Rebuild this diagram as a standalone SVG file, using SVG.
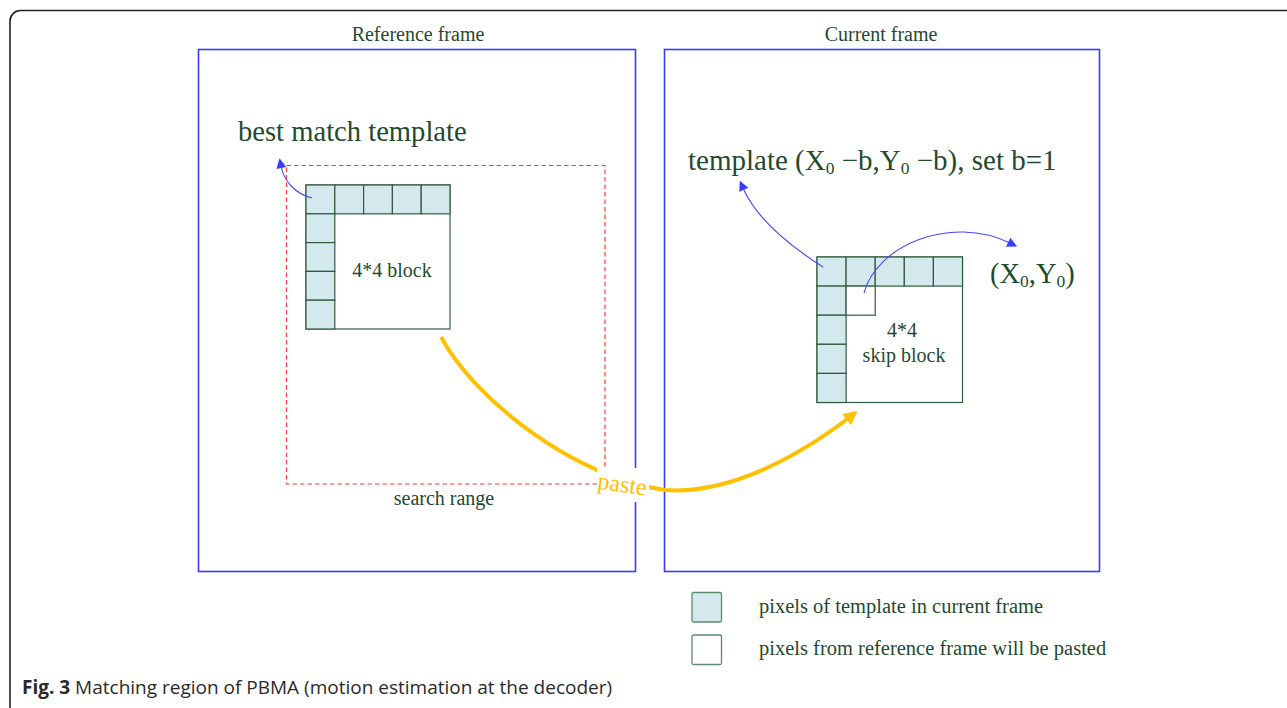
<svg xmlns="http://www.w3.org/2000/svg" width="1287" height="708" viewBox="0 0 1287 708">
  <style>
    .lbl { font-family: "Liberation Serif", "Times New Roman", serif; fill: #1f4a30; }
    .frame { fill: none; stroke: #3a3aff; stroke-width: 1.6; }
    .tpl { fill: #d3e9ee; stroke: #2f5a3e; stroke-width: 1.2; }
    .px { fill: #ffffff; stroke: #2f5a3e; stroke-width: 1.2; }
    .ptr { fill: none; stroke: #4646ff; stroke-width: 1.1; }
    .paste { fill: none; stroke: #ffc000; stroke-width: 4; }
    .cap { font-family: "Open Sans", "Liberation Sans", sans-serif; fill: #2a2a2a; }
  </style>
  <defs>
    <marker id="blueHead" viewBox="0 0 10 10" refX="2" refY="5" markerWidth="12" markerHeight="10" markerUnits="userSpaceOnUse" orient="auto">
      <path d="M0,0 L10,5 L0,10 Z" fill="#3b3bff"/>
    </marker>
    <marker id="yellowHead" viewBox="0 0 10 10" refX="3" refY="5" markerWidth="16" markerHeight="14" markerUnits="userSpaceOnUse" orient="auto">
      <path d="M0,0 L10,5 L0,10 Z" fill="#ffc000"/>
    </marker>
  </defs>

  <rect width="1287" height="708" fill="#ffffff"/>

  <!-- outer figure border, open on the right and bottom -->
  <path d="M10,712 V21 A10.5,10.5 0 0 1 20.5,10.5 H1292" fill="none" stroke="#222" stroke-width="1.6"/>

  <!-- reference frame -->
  <g id="reference-frame">
    <rect class="frame" x="198.5" y="49.5" width="437" height="522"/>
    <text class="lbl" x="418" y="41" font-size="20" text-anchor="middle">Reference frame</text>
  </g>

  <!-- current frame -->
  <g id="current-frame">
    <rect class="frame" x="664.5" y="49.5" width="435" height="522"/>
    <text class="lbl" x="881" y="41" font-size="20" text-anchor="middle">Current frame</text>
  </g>

  <!-- search range in the reference frame -->
  <g id="search-range">
    <rect x="286.5" y="165.5" width="318.5" height="318.5" fill="none" stroke="#ff3b3b" stroke-width="1.2" stroke-dasharray="4.5,3"/>
    <text class="lbl" x="444" y="505" font-size="20" text-anchor="middle">search range</text>
  </g>

  <!-- best match block with its template -->
  <g id="best-match-block">
    <rect class="px" x="306" y="185" width="144" height="144"/>
    <rect class="tpl" x="306" y="185" width="28.8" height="28.8"/>
    <rect class="tpl" x="334.8" y="185" width="28.8" height="28.8"/>
    <rect class="tpl" x="363.6" y="185" width="28.8" height="28.8"/>
    <rect class="tpl" x="392.4" y="185" width="28.8" height="28.8"/>
    <rect class="tpl" x="421.2" y="185" width="28.8" height="28.8"/>
    <rect class="tpl" x="306" y="213.8" width="28.8" height="28.8"/>
    <rect class="tpl" x="306" y="242.6" width="28.8" height="28.8"/>
    <rect class="tpl" x="306" y="271.4" width="28.8" height="28.8"/>
    <rect class="tpl" x="306" y="300.2" width="28.8" height="28.8"/>
    <text class="lbl" x="392" y="277" font-size="20" text-anchor="middle">4*4 block</text>
  </g>

  <g id="best-match-label">
    <text class="lbl" x="238" y="141" font-size="28.6">best match template</text>
  </g>

  <!-- skip block with its template -->
  <g id="skip-block">
    <rect class="px" x="817" y="257" width="145.5" height="145.5"/>
    <rect class="tpl" x="817" y="257" width="29.1" height="29.1"/>
    <rect class="tpl" x="846.1" y="257" width="29.1" height="29.1"/>
    <rect class="tpl" x="875.2" y="257" width="29.1" height="29.1"/>
    <rect class="tpl" x="904.3" y="257" width="29.1" height="29.1"/>
    <rect class="tpl" x="933.4" y="257" width="29.1" height="29.1"/>
    <rect class="tpl" x="817" y="286.1" width="29.1" height="29.1"/>
    <rect class="tpl" x="817" y="315.2" width="29.1" height="29.1"/>
    <rect class="tpl" x="817" y="344.3" width="29.1" height="29.1"/>
    <rect class="tpl" x="817" y="373.4" width="29.1" height="29.1"/>
    <rect class="px" x="846.1" y="286.1" width="29.1" height="29.1"/>
    <text class="lbl" x="902" y="337" font-size="20" text-anchor="middle">4*4</text>
    <text class="lbl" x="904" y="362" font-size="20" text-anchor="middle">skip block</text>
  </g>

  <g id="template-label">
    <text class="lbl" x="688" y="170" font-size="29">template (X<tspan font-size="17.5" dy="4">0</tspan><tspan dy="-4"> −b,Y</tspan><tspan font-size="17.5" dy="4">0</tspan><tspan dy="-4"> −b), set b=1</tspan></text>
  </g>

  <g id="origin-label">
    <text class="lbl" x="990" y="283" font-size="28.5">(X<tspan font-size="17.5" dy="4">0</tspan><tspan dy="-4">,Y</tspan><tspan font-size="17.5" dy="4">0</tspan><tspan dy="-4">)</tspan></text>
  </g>

  <!-- connectors -->
  <g id="connectors">
    <path class="ptr" d="M312,198 C296,194 284,182 281,166" marker-end="url(#blueHead)"/>
    <path class="ptr" d="M823,267 C790,246 756,218 743,188" marker-end="url(#blueHead)"/>
    <path class="ptr" d="M864,293 C876,246 950,214 1010,243" marker-end="url(#blueHead)"/>
    <path class="paste" d="M441,337 C475,400 575,478 665,490 C730,495 800,455 850,417" marker-end="url(#yellowHead)"/>
  </g>

  <!-- label on the paste connector -->
  <g id="paste-label">
    <rect x="597" y="468" width="52" height="34" fill="#ffffff"/>
    <text x="622" y="492" font-size="24" text-anchor="middle" fill="#ffc000" font-family="Liberation Serif, serif" transform="rotate(8 622 486)">paste</text>
  </g>

  <!-- legend -->
  <g id="legend-template">
    <rect x="692" y="592.5" width="29.5" height="29.5" rx="1.5" fill="#d3e9ee" stroke="#5b8a6c" stroke-width="1.3"/>
    <text class="lbl" x="759" y="613" font-size="20.5">pixels of template in current frame</text>
  </g>
  <g id="legend-pasted">
    <rect x="692" y="635" width="29.5" height="29.5" rx="1.5" fill="#ffffff" stroke="#5b8a6c" stroke-width="1.3"/>
    <text class="lbl" x="759" y="655" font-size="20.5">pixels from reference frame will be pasted</text>
  </g>

  <!-- caption -->
  <g id="caption">
    <text class="cap" x="22" y="694" font-size="19"><tspan font-weight="bold">Fig. 3</tspan> Matching region of PBMA (motion estimation at the decoder)</text>
  </g>
</svg>
